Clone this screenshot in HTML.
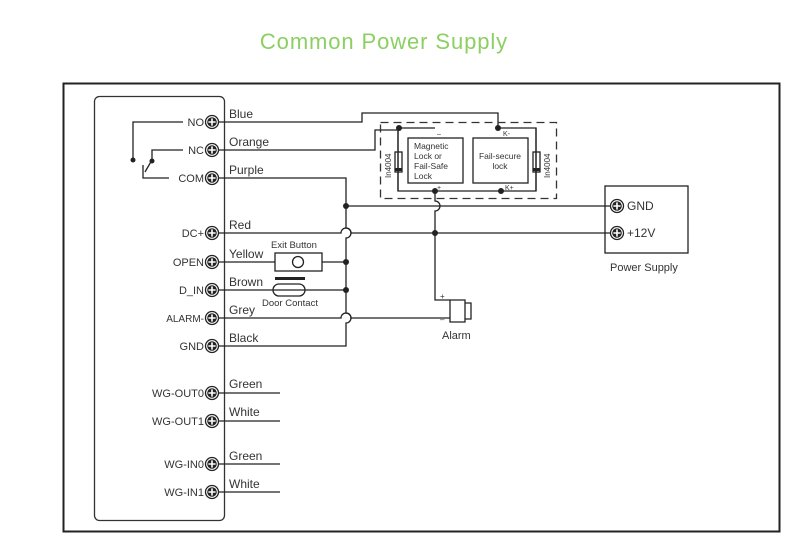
<!DOCTYPE html>
<html><head><style>
html,body{margin:0;padding:0;background:#fff;}
svg{display:block;font-family:"Liberation Sans",Arial,sans-serif;}
</style></head><body>
<svg width="803" height="546" viewBox="0 0 803 546" xmlns="http://www.w3.org/2000/svg">
<defs>
<g id="t"><circle r="6.5" fill="#fff" stroke="#222" stroke-width="1.3"/><circle r="4.8" fill="#222"/><path d="M-3.6 0H3.6M0 -3.6V3.6" stroke="#fff" stroke-width="1.6"/></g>
</defs>
<text x="384" y="49" text-anchor="middle" font-size="22" letter-spacing="0.9" fill="#8ccf62">Common Power Supply</text>
<rect x="63.5" y="83.5" width="716" height="448" fill="none" stroke="#222" stroke-width="2"/>
<rect x="94.5" y="96.5" width="130" height="424" rx="5" fill="none" stroke="#333" stroke-width="1.3"/>
<g fill="none" stroke="#222" stroke-width="1.3">
<path d="M183 122H133V160"/>
<path d="M183 150H152V160L145 172"/>
<path d="M169 178H143V165"/>
<path d="M218 122H362V113H498V128H536V191H398V128H435"/>
<path d="M218 150H375V130H399"/>
<path d="M218 178H346V228A5 5 0 0 1 346 238V313A5 5 0 0 1 346 323V346H218"/>
<path d="M346 206H612"/>
<path d="M218 233H341A5 5 0 0 1 351 233H612"/>
<path d="M435 191V201A5 5 0 0 1 435 211V300H450"/>
<path d="M218 318H341A5 5 0 0 1 351 318H450"/>
<path d="M218 262H275M322 262H346"/>
<rect x="275" y="253" width="47" height="18"/>
<circle cx="298" cy="262" r="5.5"/>
<path d="M218 290H346"/>
<path d="M279 284H299A6 6 0 0 1 299 296H279A6 6 0 0 1 279 284Z"/>
<rect x="408" y="138" width="55" height="45"/>
<rect x="473" y="138" width="55" height="45"/>
<rect x="395" y="152" width="7" height="20"/>
<rect x="533" y="152" width="7" height="20"/>
<path d="M398 128V191M536 128V191"/>
<rect x="605" y="186" width="83" height="67"/>
<path d="M450 300V322H465V300Z M465 303H471V319H465"/>
<path d="M218 393H280M218 421H280M218 464H280M218 492H280"/>
</g>
<rect x="380.5" y="122.5" width="176" height="76" fill="none" stroke="#333" stroke-width="1.3" stroke-dasharray="8 5"/>
<rect x="395" y="168" width="7" height="3" fill="#222"/>
<rect x="533" y="168" width="7" height="3" fill="#222"/>
<rect x="275" y="277" width="30" height="3" fill="#222"/>
<g fill="#222">
<circle cx="133" cy="160" r="2.5"/><circle cx="152" cy="161" r="2.5"/>
<circle cx="346" cy="206" r="3"/><circle cx="346" cy="262" r="3"/><circle cx="346" cy="290" r="3"/>
<circle cx="435" cy="233" r="3"/><circle cx="399" cy="128" r="3"/><circle cx="498" cy="128" r="3"/>
<circle cx="435" cy="191" r="3"/><circle cx="501" cy="191" r="3"/>
</g>
<g>
<use href="#t" x="212" y="122"/><use href="#t" x="212" y="150"/><use href="#t" x="212" y="178"/>
<use href="#t" x="212" y="233"/><use href="#t" x="212" y="262"/><use href="#t" x="212" y="290"/>
<use href="#t" x="212" y="318"/><use href="#t" x="212" y="346"/>
<use href="#t" x="212" y="393"/><use href="#t" x="212" y="421"/><use href="#t" x="212" y="464"/><use href="#t" x="212" y="492"/>
<use href="#t" x="617" y="206"/><use href="#t" x="617" y="233"/>
</g>
<g font-size="11" fill="#333" text-anchor="end">
<text x="204" y="126">NO</text><text x="204" y="154">NC</text><text x="204" y="182">COM</text>
<text x="204" y="237">DC+</text><text x="204" y="266">OPEN</text><text x="204" y="294">D_IN</text>
<text x="204" y="322" font-size="10">ALARM-</text><text x="204" y="350">GND</text>
<text x="204" y="397">WG-OUT0</text><text x="204" y="425">WG-OUT1</text>
<text x="204" y="468">WG-IN0</text><text x="204" y="496">WG-IN1</text>
</g>
<g font-size="12" fill="#333">
<text x="229" y="118">Blue</text><text x="229" y="146">Orange</text><text x="229" y="174">Purple</text>
<text x="229" y="229">Red</text><text x="229" y="258">Yellow</text><text x="229" y="286">Brown</text>
<text x="229" y="314">Grey</text><text x="229" y="342">Black</text>
<text x="229" y="388">Green</text><text x="229" y="416">White</text>
<text x="229" y="460">Green</text><text x="229" y="488">White</text>
<text x="627" y="210">GND</text><text x="627" y="237">+12V</text>
</g>
<g font-size="10" fill="#333">
<text x="271" y="248" font-size="9.5">Exit Button</text>
<text x="262" y="306" font-size="9.5">Door Contact</text>
<text x="610" y="271" font-size="11">Power Supply</text>
<text x="442" y="339" font-size="11">Alarm</text>
<text x="414" y="149" font-size="8.5">Magnetic</text>
<text x="414" y="159" font-size="8.5">Lock or</text>
<text x="414" y="169" font-size="8.5">Fail-Safe</text>
<text x="414" y="179" font-size="8.5">Lock</text>
<text x="500" y="159" font-size="8.5" text-anchor="middle">Fail-secure</text>
<text x="500" y="169" font-size="8.5" text-anchor="middle">lock</text>
<text x="503" y="136" font-size="7">K-</text><text x="505" y="190" font-size="7">K+</text>
<text x="437" y="136" font-size="7">–</text><text x="437" y="190" font-size="7">+</text>
<text x="440" y="299" font-size="8">+</text><text x="440" y="322" font-size="8">–</text>
<text transform="translate(391,178) rotate(-90)" font-size="8">In4004</text>
<text transform="translate(550,178) rotate(-90)" font-size="8">In4004</text>
</g>
</svg>
</body></html>
